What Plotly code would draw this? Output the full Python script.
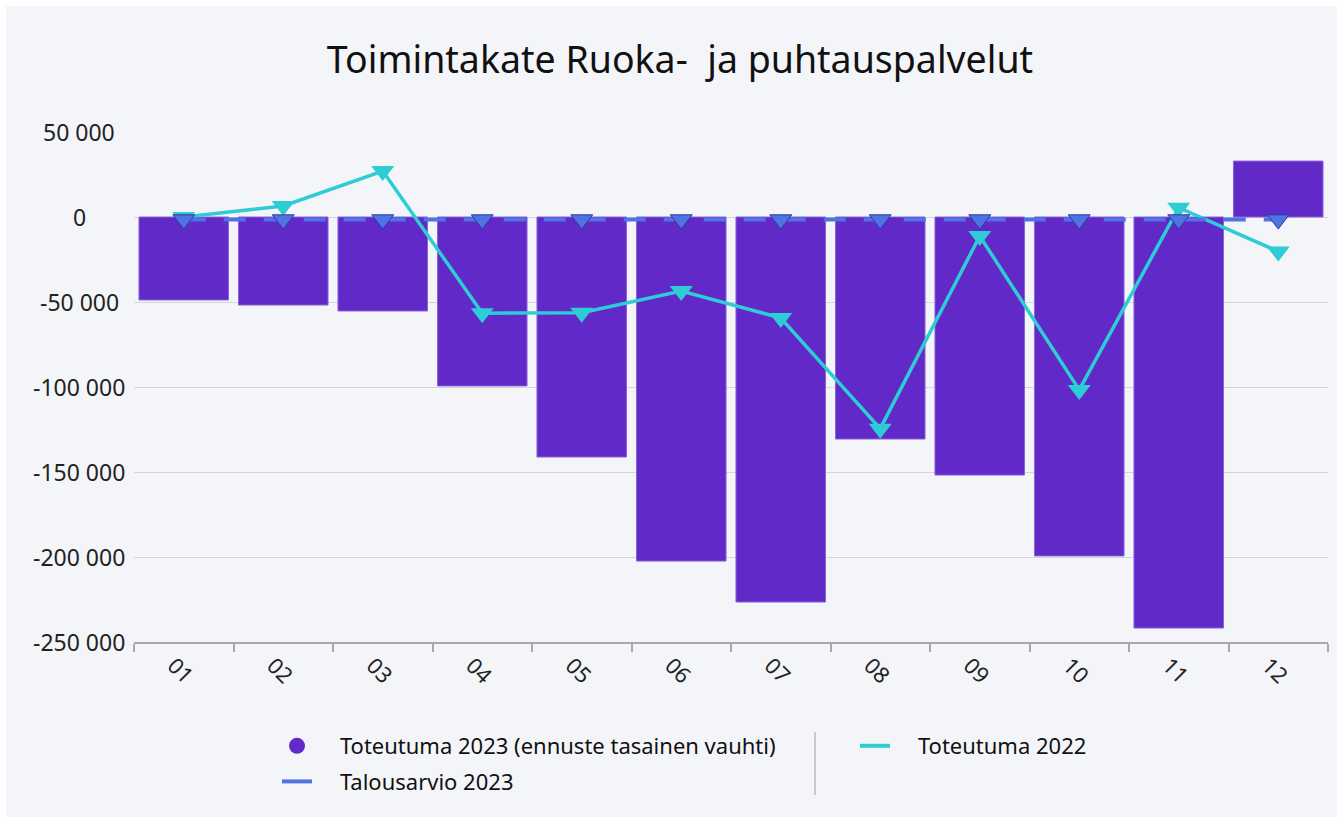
import plotly.graph_objects as go

months = ["01", "02", "03", "04", "05", "06", "07", "08", "09", "10", "11", "12"]
toteutuma_2023 = [-48800, -51800, -55300, -99400, -141200, -202400, -226500, -130600, -151800, -199400, -241800, 32900]
toteutuma_2022 = [0, 6500, 27000, -56600, -56300, -43500, -59400, -124500, -11200, -101700, 5500, -20300]
talousarvio_2023 = [-1500] * 12
y_tick_vals = [-250000, -200000, -150000, -100000, -50000, 0, 50000]
y_tick_text = ["-250 000", "-200 000", "-150 000", "-100 000", "-50 000", "0", "50 000"]

FONT = "Segoe UI, Noto Sans, Open Sans, sans-serif"
PURPLE = "#6029C8"
CYAN = "#2ECCD4"
BLUE = "#4F73E2"
BG = "#F4F5F9"

W, H = 1343, 823
L, R, T, B = 134, 15, 132, 181
pw, ph = W - L - R, H - T - B

def px2paper_x(px):
    return (px - L) / pw

def px2paper_y(py):
    return (H - B - py) / ph

PAD = "&nbsp;&nbsp;&nbsp;&nbsp;"

fig = go.Figure()

fig.add_trace(go.Bar(
    x=months, y=toteutuma_2023, name="Toteutuma 2023 (ennuste tasainen vauhti)",
    marker=dict(color=PURPLE, line=dict(color="#8A63DA", width=1)),
    showlegend=False,
))
fig.add_trace(go.Scatter(
    x=months, y=toteutuma_2022, name="Toteutuma 2022", mode="lines+markers",
    line=dict(color=CYAN, width=3.5),
    marker=dict(symbol="triangle-down", size=20, color=CYAN),
    showlegend=False,
))
fig.add_trace(go.Scatter(
    x=months, y=talousarvio_2023, name="Talousarvio 2023", mode="lines+markers",
    line=dict(color=BLUE, width=4, dash="22px,18px"),
    marker=dict(symbol="triangle-down", size=19, color=BLUE, line=dict(color="#2B3C9E", width=1)),
    showlegend=False,
))

# legend-only entries
fig.add_trace(go.Scatter(
    x=[None], y=[None], mode="markers", name=PAD + "Toteutuma 2023 (ennuste tasainen vauhti)",
    marker=dict(symbol="circle", size=22, color=PURPLE), legend="legend", legendgroup="a",
))
fig.add_trace(go.Scatter(
    x=[None], y=[None], mode="lines", name=PAD + "Talousarvio 2023",
    line=dict(color=BLUE, width=4), legend="legend", legendgroup="b",
))
fig.add_trace(go.Scatter(
    x=[None], y=[None], mode="lines", name=PAD + "Toteutuma 2022",
    line=dict(color=CYAN, width=4), legend="legend2", legendgroup="c",
))

legend_common = dict(
    orientation="v", xref="container", yref="container", yanchor="top", xanchor="left",
    font=dict(family=FONT, size=22, color="#111"), bgcolor="rgba(0,0,0,0)",
    tracegroupgap=4, itemsizing="trace",
)

annotations = [
    dict(x=px2paper_x(79), xref="paper", y=v, yref="y", text=t, showarrow=False,
         xanchor="center", yanchor="middle", font=dict(family=FONT, size=23, color="#222"))
    for v, t in zip(y_tick_vals, y_tick_text)
]

fig.update_layout(
    width=W, height=H,
    margin=dict(l=L, r=R, t=T, b=B, autoexpand=False),
    paper_bgcolor="white", plot_bgcolor=BG,
    font=dict(family=FONT, size=21, color="#222"),
    title=dict(text="Toimintakate Ruoka-&nbsp; ja puhtauspalvelut", x=680 / W, xref="container", xanchor="center",
               y=1 - 60 / H, yref="container", yanchor="middle",
               font=dict(family=FONT, size=37.5, color="#111")),
    bargap=0.1,
    legend=dict(x=277 / W, y=1 - 725 / H, **legend_common),
    legend2=dict(x=855 / W, y=1 - 725 / H, **legend_common),
    xaxis=dict(
        type="category", range=[-0.5, 11.5], tickangle=45, tickson="boundaries", ticks="outside",
        ticklen=8, tickwidth=2, ticklabelshift=-10,
        tickcolor="#A9A9A9", showline=True, linecolor="#A9A9A9", linewidth=2, showgrid=False,
        tickfont=dict(family=FONT, size=22, color="#222"),
    ),
    yaxis=dict(
        range=[-250000, 50000], tickvals=y_tick_vals, ticktext=y_tick_text, showticklabels=False,
        showgrid=True, gridcolor="#D6D6D9", gridwidth=1, zeroline=False, showline=False, ticks="",
    ),
    annotations=annotations,
    shapes=[
        dict(type="rect", xref="paper", yref="paper", layer="below",
             x0=px2paper_x(6), x1=px2paper_x(W - 6), y0=px2paper_y(6), y1=px2paper_y(H - 6),
             fillcolor=BG, line=dict(width=0)),
        dict(type="line", xref="paper", yref="paper",
             x0=px2paper_x(815), x1=px2paper_x(815), y0=px2paper_y(732), y1=px2paper_y(795),
             line=dict(color="#C8C8C8", width=2)),
    ],
)

fig.write_html("out.html", config={"displayModeBar": False},
               post_script="document.body.style.margin='0';document.body.style.overflow='hidden';")
